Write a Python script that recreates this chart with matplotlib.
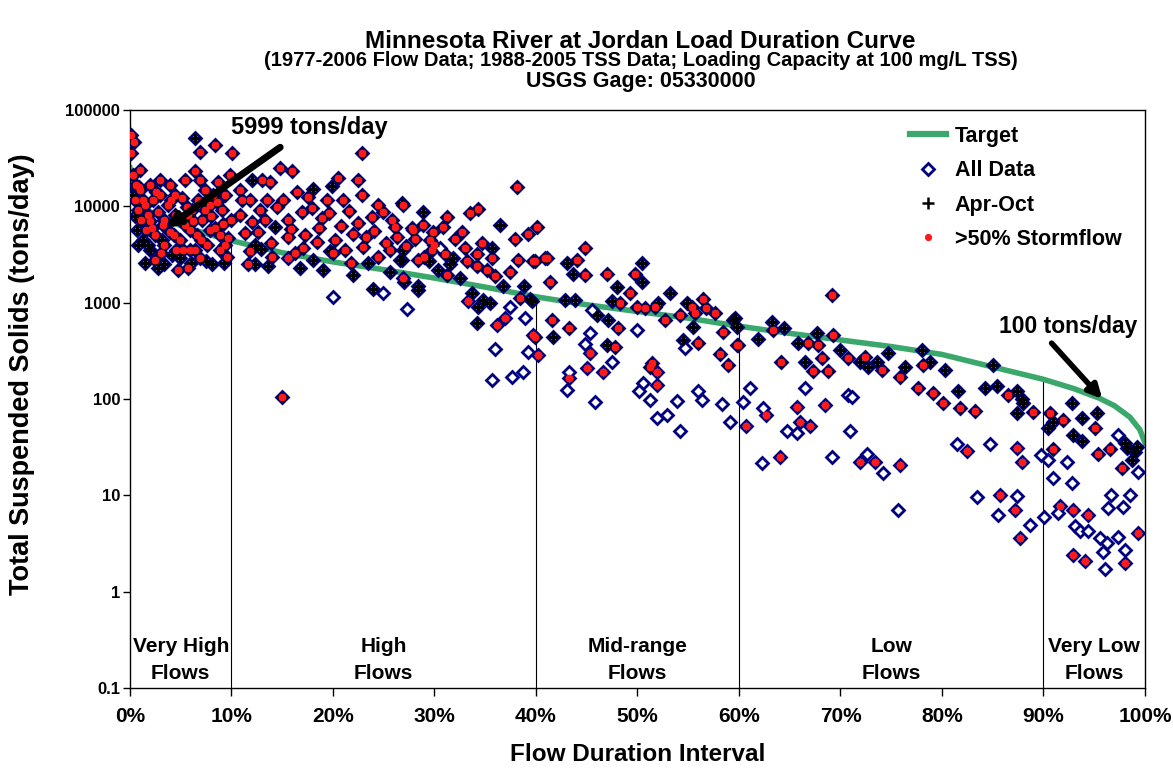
import numpy as np
import matplotlib
matplotlib.use("Agg")
import matplotlib.pyplot as plt
from matplotlib.lines import Line2D
from matplotlib.ticker import FixedLocator, FixedFormatter, NullLocator

plt.rcParams['font.family'] = ['Liberation Sans', 'DejaVu Sans']
plt.rcParams['font.weight'] = 'bold'

# Target (loading capacity) curve
target_x = [0, 0.3, 1, 2, 3, 5, 7, 10, 15, 20, 25, 30, 35, 40, 45, 50, 55, 60,
            65, 70, 75, 80, 85, 90, 93, 95.5, 97, 98.5, 99.5, 100]
target_y = [25000, 16000, 10500, 8800, 7800, 6300, 5400, 4400, 3300, 2650, 2200,
            1800, 1450, 1150, 950, 810, 690, 570, 480, 410, 350, 290, 215, 160,
            128, 102, 85, 65, 48, 35]

# Apr-Oct samples with >50% stormflow
aprstorm = [
    (0.1, 55000), (0.4, 46000), (0.1, 36000), (0.3, 21000), (0.6, 16600), (0.5, 11600),
    (1.0, 14800), (0.8, 9200), (1.1, 7200), (1.5, 10300), (1.8, 8100), (2.5, 2800),
    (2.2, 6000), (2.8, 8800), (3.0, 13100), (3.3, 6400), (3.4, 4000), (3.7, 10300),
    (3.9, 5400), (4.4, 8100), (4.7, 2200), (4.9, 4500), (5.1, 12200), (5.4, 6400),
    (5.7, 2300), (5.9, 3500), (6.1, 9200), (6.4, 23000), (6.6, 5000), (6.9, 37000),
    (6.9, 2900), (7.1, 7200), (7.4, 14800), (7.6, 4000), (7.9, 10300), (8.4, 43000),
    (8.4, 6000), (8.7, 18000), (8.9, 3500), (9.1, 9200), (9.4, 13100), (9.6, 3000),
    (9.7, 4700), (9.9, 21000), (10.1, 36000), (10.0, 7200), (3.0, 18800), (3.9, 16600),
    (5.4, 18800), (2.0, 16600), (2.5, 5000), (6.9, 18800), (7.9, 5700), (5.7, 8100),
    (4.5, 3500), (6.7, 11600), (1.0, 23800), (1.6, 5700), (1.3, 11600), (2.3, 11600),
    (4.4, 13100), (5.9, 5700), (7.4, 9200), (8.9, 5000), (9.4, 4000), (6.4, 3500),
    (8.2, 13100), (3.4, 7200), (5.2, 3500),
    (0.9, 16000), (2.6, 14000), (4.0, 11500), (5.6, 9800), (6.2, 7000), (7.0, 4500),
    (8.0, 8000), (8.6, 11000), (9.2, 6600), (2.0, 7000), (3.1, 3300), (4.3, 5000),
    (10.8, 8100), (11.3, 5300), (11.8, 11600), (10.8, 14800), (11.6, 2500), (22.9, 36000),
    (14.8, 25000), (16.0, 23000), (13.0, 18800), (13.8, 18000), (20.5, 19500), (22.5, 18800),
    (16.5, 14200), (15.1, 11600), (13.5, 11600), (22.9, 13100), (24.4, 10300), (19.4, 11600),
    (21.0, 11600), (17.9, 9600), (18.9, 7600), (22.5, 6700), (23.8, 7800), (25.8, 7200),
    (26.1, 6100), (27.8, 6000), (13.3, 7200), (15.6, 7200), (16.9, 8700), (12.6, 5400),
    (15.6, 4800), (17.2, 5000), (18.4, 4300), (20.2, 4500), (21.2, 3500), (23.3, 4800),
    (24.4, 3000), (25.6, 3500), (15.0, 105),
    (11.0, 11600), (12.0, 6800), (12.8, 9200), (13.9, 4200), (14.5, 9800), (15.9, 5800),
    (16.3, 3300), (17.5, 12400), (18.6, 6000), (19.6, 8600), (20.8, 6300), (21.6, 9000),
    (22.0, 5200), (23.0, 3800), (24.0, 5600), (24.9, 8800), (25.2, 4200), (26.3, 4800),
    (27.2, 3900), (28.1, 4600), (29.0, 3000), (30.0, 4000), (31.0, 3200), (32.0, 4600),
    (33.0, 3700), (11.8, 3400), (14.0, 3000), (17.0, 3700), (20.0, 3300), (21.8, 2600),
    (26.9, 10300), (31.2, 7800), (33.5, 8500), (34.3, 9400), (27.9, 5700), (28.9, 6400),
    (29.9, 5400), (30.8, 6100), (32.7, 5400), (37.9, 4600), (39.2, 5200), (40.1, 6100),
    (29.6, 4500), (29.8, 3500), (28.4, 2800), (33.2, 2700), (34.2, 3200), (34.7, 4200),
    (35.7, 2900), (34.2, 2400), (35.2, 2200), (36.0, 1900), (37.4, 2100), (38.2, 2800),
    (39.7, 2700), (41.1, 2900), (31.2, 1950), (38.4, 1130), (38.1, 16000),
    (44.8, 3700), (39.9, 2700), (40.9, 2900), (44.0, 2800), (44.8, 1950), (47.0, 2000),
    (49.8, 2000), (49.3, 1250), (48.3, 1000), (50.0, 900), (50.7, 870), (51.7, 900),
    (52.7, 660), (54.2, 740), (55.4, 900), (56.5, 1100), (56.8, 870), (57.6, 780),
    (55.7, 780), (56.0, 380), (58.4, 500), (59.8, 360), (58.1, 290), (58.9, 225),
    (41.4, 1650), (48.1, 545), (41.6, 660), (43.3, 545), (47.8, 350), (51.4, 235),
    (51.2, 215), (39.9, 440),
    (69.2, 1200), (59.9, 360), (63.4, 520), (64.1, 245), (66.8, 380), (67.8, 360),
    (67.3, 195), (68.2, 265), (68.8, 195), (69.3, 460), (70.7, 265), (72.4, 270),
    (74.1, 200), (75.9, 170), (78.1, 225), (77.6, 130), (79.1, 115), (80.1, 90),
    (81.8, 80), (83.3, 75), (86.5, 110), (89.0, 73),
    (95.1, 50), (90.6, 72), (91.9, 60), (90.9, 30), (95.4, 27), (96.6, 30), (97.7, 19),
]

# Apr-Oct samples, mostly baseflow
aproct = [
    (0.2, 13100), (0.7, 5700), (1.3, 4500), (2.0, 3500), (4.1, 3100), (6.4, 51000),
    (8.1, 2500), (3.4, 2500), (1.5, 2600), (3.2, 4500), (4.9, 2900), (0.8, 4000), (1.8, 4000),
    (2.8, 2300), (6.0, 2600), (7.5, 2700), (9.3, 2600), (0.5, 8000),
    (12.3, 4000), (12.0, 18800), (19.9, 16300), (18.0, 15200), (26.8, 10800), (14.3, 6100),
    (19.7, 3400), (26.8, 2800), (18.0, 2800), (13.6, 2400), (12.3, 2500), (22.0, 1950),
    (23.9, 1400), (28.9, 8700), (36.5, 6400), (26.9, 3500), (31.8, 2900), (35.7, 3700),
    (26.6, 2800), (28.4, 1500), (28.4, 1350), (30.3, 2200), (33.7, 1250), (34.8, 1070),
    (35.5, 1000), (34.3, 900), (39.6, 1030), (34.2, 620),
    (12.9, 3600), (16.8, 2300), (19.0, 2200), (23.5, 2600), (25.6, 2100), (27.0, 1650),
    (29.5, 2700), (31.5, 2500), (32.5, 1800), (36.8, 1500), (38.8, 1500),
    (43.1, 2600), (43.6, 2000), (50.4, 2600), (50.4, 1650), (48.0, 1450), (47.5, 1030),
    (52.0, 1000), (53.2, 1250), (54.9, 1000), (55.5, 560), (54.5, 410), (59.4, 660),
    (39.4, 1100), (42.9, 1070), (43.8, 1070), (46.0, 740), (47.1, 660), (41.7, 440), (47.0, 360),
    (59.6, 700), (59.8, 560), (61.9, 420), (63.3, 630), (64.4, 550), (65.8, 380),
    (67.7, 480), (66.5, 240), (70.0, 320), (71.9, 240), (72.7, 215), (73.6, 240),
    (74.7, 300), (76.4, 215), (78.0, 320), (78.8, 245), (80.3, 200), (81.6, 120),
    (85.0, 225), (84.2, 130), (85.4, 135), (87.4, 120), (87.9, 100), (87.4, 72),
    (92.8, 90), (95.3, 72), (93.8, 63), (90.4, 50), (90.9, 58), (92.9, 42), (93.8, 37),
    (98.2, 31), (99.0, 28), (98.7, 23), (88.0, 90), (98.0, 35), (99.2, 32),
]

# Nov-Mar samples with >50% stormflow
winterstorm = [
    (15.6, 2900), (26.9, 1800), (33.3, 1030), (36.2, 580), (36.9, 690), (39.7, 460),
    (40.2, 285), (45.3, 300), (46.6, 190), (45.0, 210), (43.3, 165), (51.9, 190),
    (51.9, 140), (60.7, 52),
    (62.7, 68), (65.7, 83), (68.5, 86), (66.0, 58), (67.0, 52), (64.0, 25), (71.9, 22),
    (73.4, 22), (75.9, 20.5), (82.5, 29), (87.4, 31), (87.9, 22), (85.7, 10), (87.2, 7),
    (87.7, 3.6),
    (91.6, 7.8), (92.9, 7.0), (94.4, 6.2), (99.3, 4.1), (92.9, 2.4), (94.1, 2.1), (98.0, 2.0),
]

# Nov-Mar samples, baseflow
winter = [
    (24.9, 1250), (20.0, 1150), (27.3, 850), (30.5, 3700), (37.4, 900), (38.9, 700),
    (36.0, 330), (39.2, 310), (35.7, 157), (37.6, 170), (38.7, 190),
    (54.7, 340), (45.5, 840), (50.0, 520), (45.3, 480), (44.8, 370), (47.5, 245),
    (43.3, 190), (43.1, 124), (45.8, 93), (50.5, 145), (50.2, 120), (51.2, 97),
    (51.9, 63), (52.9, 68), (53.9, 95), (54.2, 46), (56.0, 120), (56.4, 97), (58.3, 88),
    (59.1, 58), (60.4, 92),
    (61.1, 130), (62.4, 80), (66.5, 130), (70.7, 110), (71.1, 105), (64.7, 46),
    (65.7, 44), (70.9, 46), (62.3, 21.5), (69.2, 25), (72.6, 27), (74.2, 17), (75.7, 7),
    (81.5, 34), (84.7, 34), (89.8, 26), (83.5, 9.5), (87.4, 9.8), (85.5, 6.2), (88.7, 4.9),
    (90.4, 23), (92.3, 22), (90.9, 15), (92.8, 13.5), (97.3, 42), (99.3, 17.5),
    (96.7, 10), (98.5, 10), (97.8, 7.6), (96.4, 7.4), (91.4, 6.5), (90.1, 6.0), (93.1, 4.8),
    (93.6, 4.3), (94.4, 4.3), (95.6, 3.6), (96.3, 3.2), (97.3, 3.7), (95.9, 2.6),
    (98.0, 2.7), (96.1, 1.7),
]

zone_edges = [10, 40, 60, 90]
zone_labels = ["Very High\nFlows", "High\nFlows", "Mid-range\nFlows", "Low\nFlows", "Very Low\nFlows"]
zone_centers = [5, 25, 50, 75, 95]

navy = '#000080'
green = '#3aa86b'
red = '#ff1a1a'

all_pts = np.array(aprstorm + aproct + winterstorm + winter)
apr_pts = np.array(aprstorm + aproct)
storm_pts = np.array(aprstorm + winterstorm)

fig = plt.figure(figsize=(11.73, 7.69), dpi=100)
ax = fig.add_axes([0.1108, 0.1053, 0.8653, 0.7517])

tx = np.array(target_x)
ty = np.array(target_y)
ax.vlines(zone_edges, 0.1, np.interp(zone_edges, tx, ty), color='black', lw=0.8, zorder=1)

ax.plot(all_pts[:, 0], all_pts[:, 1], ls='none', marker='D', ms=6.3, mfc='white',
        mec=navy, mew=2.0, zorder=3, label='All Data')
ax.plot(apr_pts[:, 0], apr_pts[:, 1], ls='none', marker='+', ms=7, color='black',
        mew=2.4, zorder=4, label='Apr-Oct')
ax.plot(storm_pts[:, 0], storm_pts[:, 1], ls='none', marker='o', ms=4.6, color=red,
        mec=red, zorder=5, label='>50% Stormflow')
ax.plot(tx, ty, color=green, lw=4, zorder=2, label='Target')

ax.set_yscale('log')
ax.set_xlim(0, 100)
ax.set_ylim(0.1, 100000)
ax.yaxis.set_major_locator(FixedLocator([0.1, 1, 10, 100, 1000, 10000, 100000]))
ax.yaxis.set_major_formatter(FixedFormatter(['0.1', '1', '10', '100', '1000', '10000', '100000']))
ax.yaxis.set_minor_locator(NullLocator())
ax.set_xticks(range(0, 101, 10))
ax.set_xticklabels([f"{v}%" for v in range(0, 101, 10)])
ax.tick_params(axis='x', direction='out', length=6, width=1, labelsize=15, pad=8)
ax.tick_params(axis='y', direction='out', length=5, width=1, labelsize=12, pad=2)
for sp in ax.spines.values():
    sp.set_linewidth(1)

for xc, lab in zip(zone_centers, zone_labels):
    ax.text(xc, 0.195, lab, ha='center', va='center', fontsize=15, fontweight='bold',
            linespacing=1.55)

# annotations: arrows drawn separately from their labels
ax.text(17.7, 65000, '5999 tons/day', ha='center', va='center', fontsize=17,
        fontweight='bold', zorder=6)
ax.annotate('', xy=(3.6, 5999), xytext=(14.8, 41000), zorder=6,
            arrowprops=dict(arrowstyle='-|>', color='black', lw=5, mutation_scale=18,
                            shrinkA=0, shrinkB=0))
ax.text(92.4, 560, '100 tons/day', ha='center', va='center', fontsize=16.5,
        fontweight='bold', zorder=6)
ax.annotate('', xy=(95.8, 100), xytext=(90.8, 380), zorder=6,
            arrowprops=dict(arrowstyle='-|>', color='black', lw=4, mutation_scale=20,
                            shrinkA=0, shrinkB=0))

ax.set_xlabel('Flow Duration Interval', fontsize=17.5, fontweight='bold', labelpad=12)
ax.set_ylabel('Total Suspended Solids (tons/day)', fontsize=19.5, fontweight='bold')
ax.yaxis.set_label_coords(-0.094, 0.543)

handles = [Line2D([], [], color=green, lw=4.5),
           Line2D([], [], ls='none', marker='D', ms=6.3, mfc='white', mec=navy, mew=2.0),
           Line2D([], [], ls='none', marker='+', ms=9, color='black', mew=1.8),
           Line2D([], [], ls='none', marker='o', ms=4.2, color=red)]
ax.legend(handles, ['Target', 'All Data', 'Apr-Oct', '>50% Stormflow'], loc='upper left',
          bbox_to_anchor=(0.749, 1.006), frameon=False, handlelength=1.7,
          handletextpad=0.4, labelspacing=0.62, prop={'weight': 'bold', 'size': 15.5})

fig.text(0.546, 0.946, 'Minnesota River at Jordan Load Duration Curve', ha='center',
         va='center', fontsize=17.5, fontweight='bold')
fig.text(0.546, 0.921, '(1977-2006 Flow Data; 1988-2005 TSS Data; Loading Capacity at 100 mg/L TSS)',
         ha='center', va='center', fontsize=14.5, fontweight='bold')
fig.text(0.546, 0.894, 'USGS Gage: 05330000', ha='center', va='center', fontsize=15.5,
         fontweight='bold')

fig.savefig('out.png', dpi=100)
